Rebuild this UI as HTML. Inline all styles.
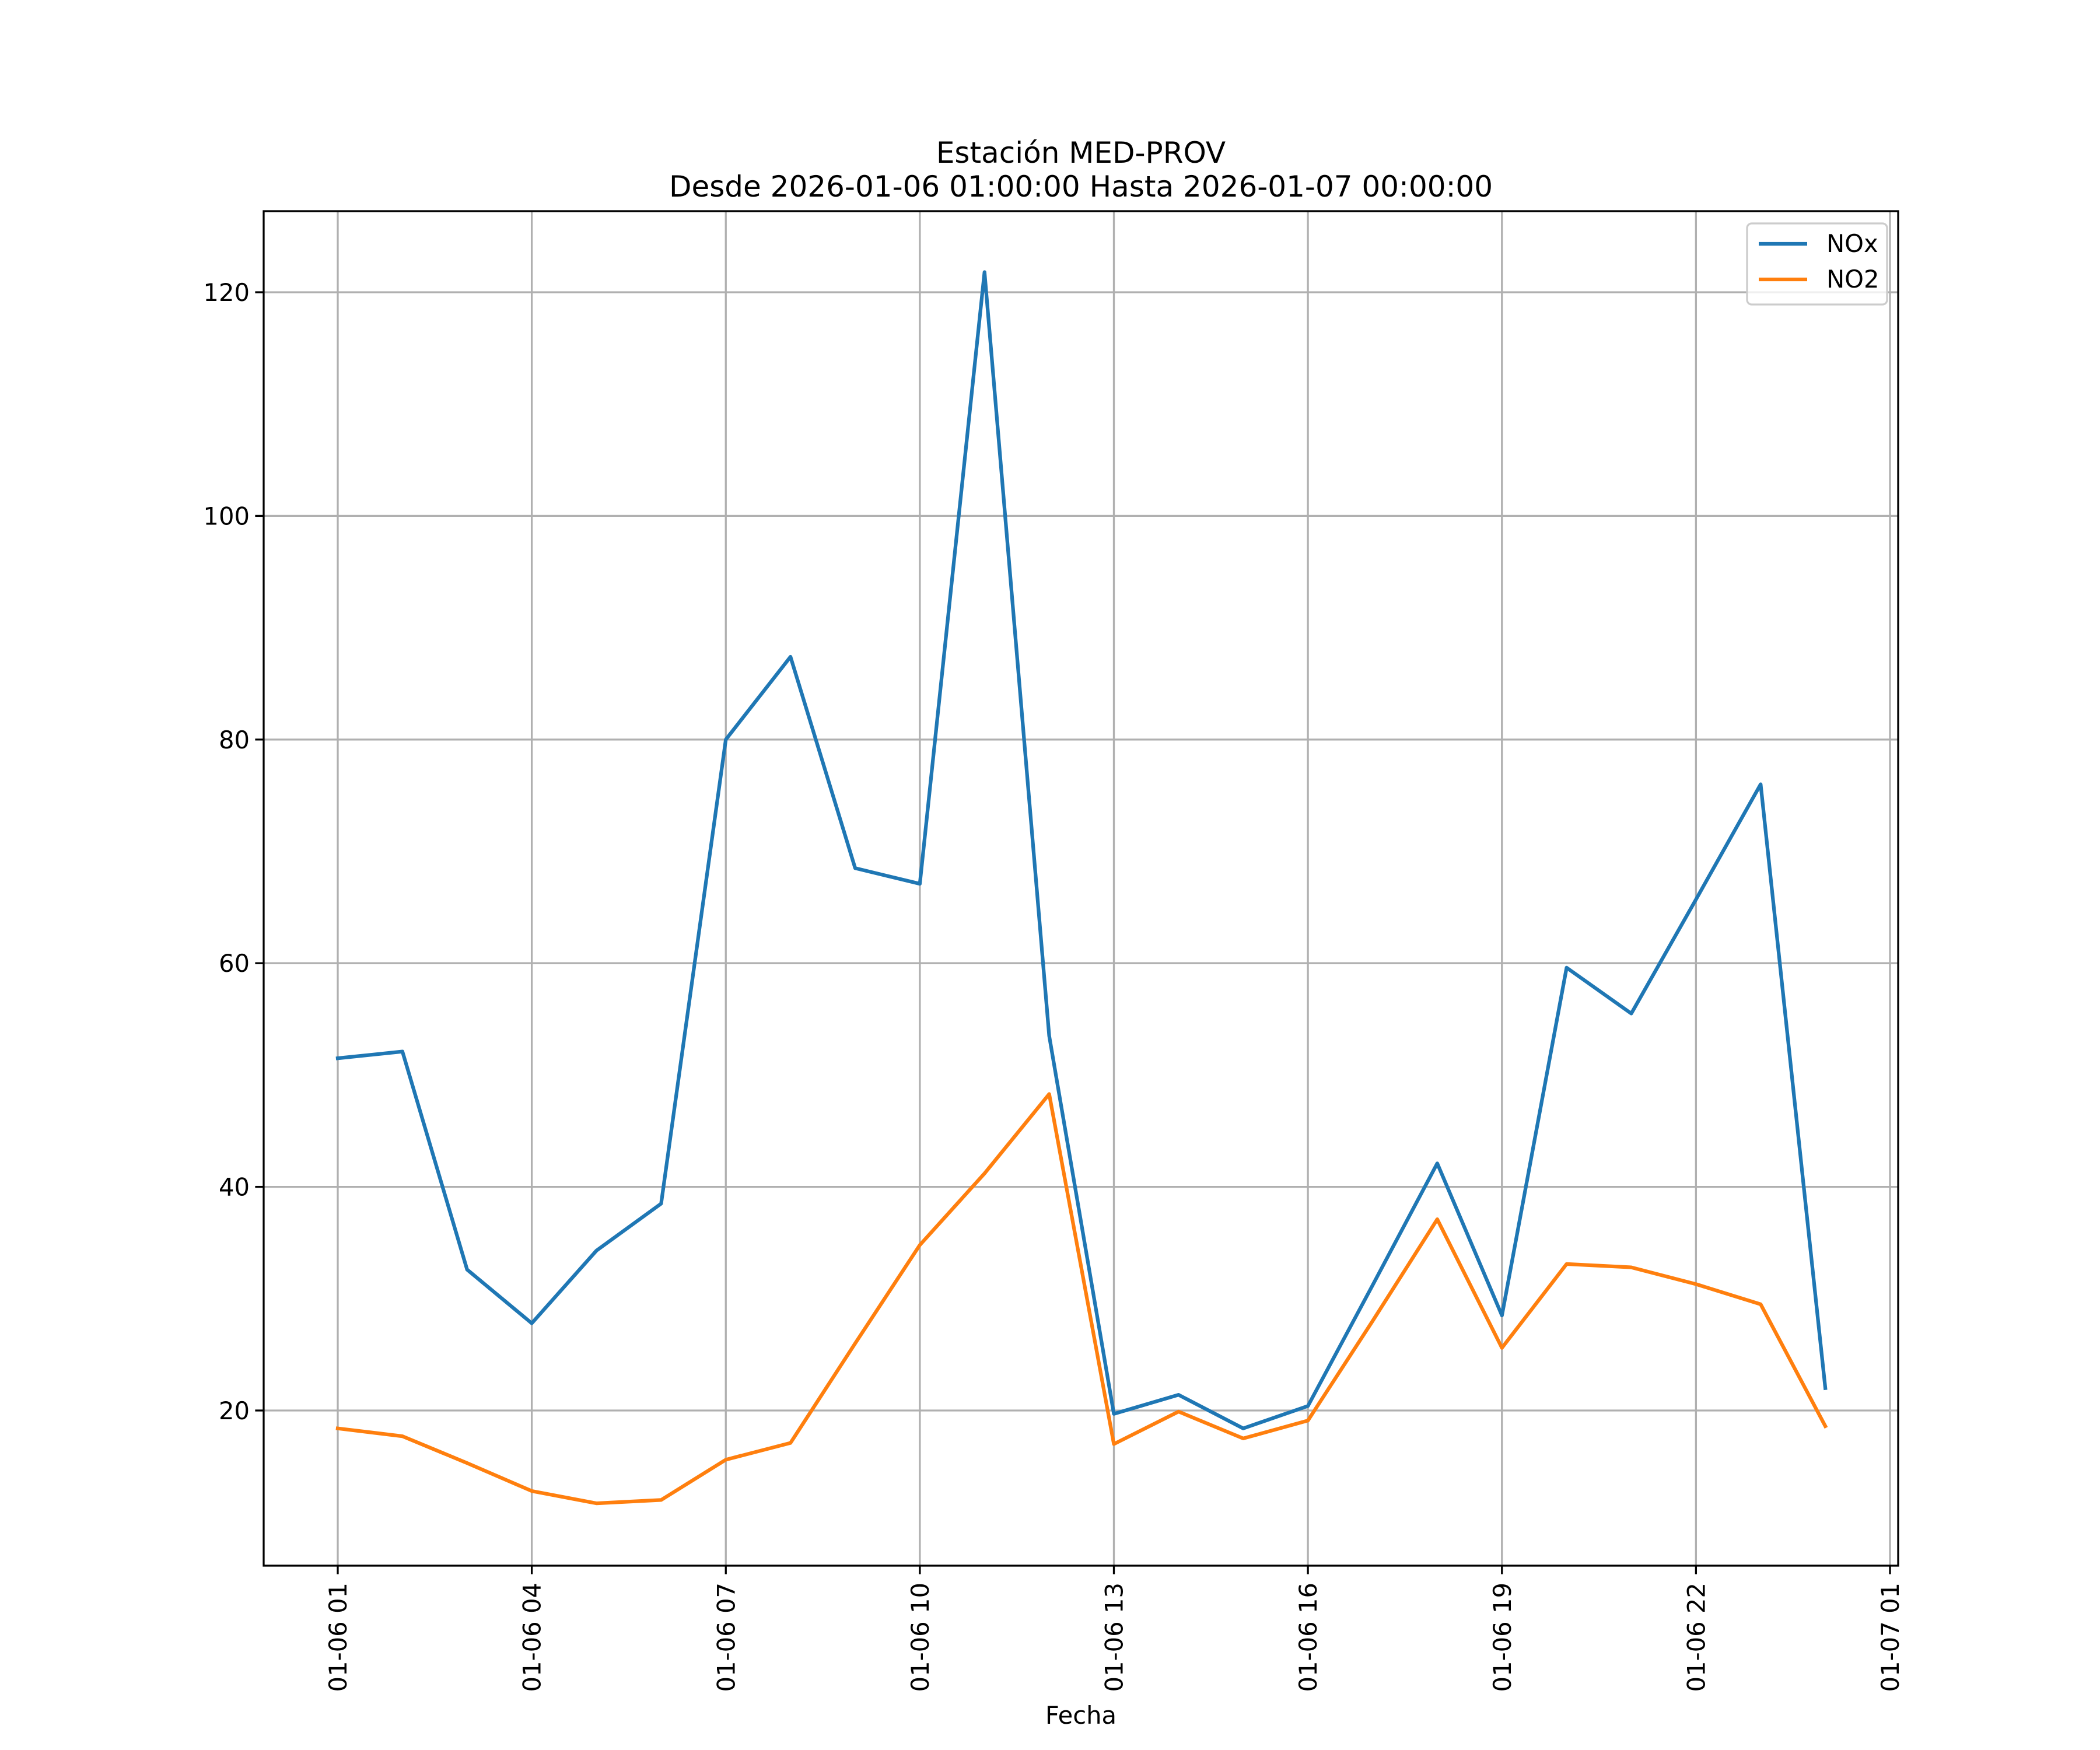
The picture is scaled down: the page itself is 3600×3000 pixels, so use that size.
<!DOCTYPE html>
<html><head><meta charset="utf-8"><style>
html,body{margin:0;padding:0;background:#fff;}
svg{display:block;font-family:"DejaVu Sans","Liberation Sans",sans-serif;}
</style></head><body>
<svg id="chart" width="3600" height="3000" viewBox="0 0 3600 3000" xmlns="http://www.w3.org/2000/svg">
<rect width="3600" height="3000" fill="#fff"/>
<text x="1853" y="279" font-size="50" text-anchor="middle">Estación MED-PROV</text>
<text x="1853" y="337" font-size="50" text-anchor="middle">Desde 2026-01-06 01:00:00 Hasta 2026-01-07 00:00:00</text>
<g id="grid"></g>
<g id="series"></g>
<rect x="452" y="362" width="2802" height="2322" fill="none" stroke="#000" stroke-width="3.3"/>
<g id="ticks"></g>
<text x="1853" y="2955" font-size="41.7" text-anchor="middle">Fecha</text>
<g>
<rect x="2995" y="383" width="240" height="139" rx="8" fill="#fff" fill-opacity="0.8" stroke="#ccc" stroke-width="3.3"/>
<line x1="3015" y1="418" x2="3098" y2="418" stroke="#1f77b4" stroke-width="6.25"/>
<text x="3131" y="432" font-size="41.7">NOx</text>
<line x1="3015" y1="479" x2="3098" y2="479" stroke="#ff7f0e" stroke-width="6.25"/>
<text x="3131" y="493" font-size="41.7">NO2</text>
</g>
</svg>
<script>
const hours = [1,2,3,4,5,6,7,8,9,10,11,12,13,14,15,16,17,18,19,20,21,22,23,24];
const noxValues = [51.5,52.1,32.6,27.8,34.3,38.5,80.0,87.4,68.5,67.1,121.8,53.5,19.7,21.4,18.4,20.4,31.2,42.1,28.5,59.6,55.5,65.7,76.0,22.0];
const no2Values = [18.4,17.7,15.3,12.8,11.7,12.0,15.6,17.1,26.0,34.8,41.2,48.3,17.0,19.9,17.5,19.1,28.0,37.1,25.6,33.1,32.8,31.3,29.5,18.6];
const yTicks = [20,40,60,80,100,120];
const xTicks = [1,4,7,10,13,16,19,22,25];
const xTickLabels = ["01-06 01","01-06 04","01-06 07","01-06 10","01-06 13","01-06 16","01-06 19","01-06 22","01-07 01"];

const NS="http://www.w3.org/2000/svg";
const X0=452,X1=3254,Y0=362,Y1=2684;
function xs(h){return 579+(h-1)*(3240-579)/24;}
function ys(v){return 2418-(v-20)*(2418-501)/100;}
function mk(tag,attrs,parent){const e=document.createElementNS(NS,tag);for(const k in attrs)e.setAttribute(k,attrs[k]);parent.appendChild(e);return e;}
const grid=document.getElementById('grid'),ticks=document.getElementById('ticks'),series=document.getElementById('series');
yTicks.forEach(v=>{
  const y=ys(v);
  const g=mk('line',{x1:X0,x2:X1,y1:y,y2:y,stroke:'#b0b0b0','stroke-width':3.3},grid);
  
  
  const t=mk('line',{x1:X0-14.6,x2:X0,y1:y,y2:y,stroke:'#000','stroke-width':3.3},ticks);
  
  
  const l=mk('text',{x:X0-24,y:y+15,'font-size':41.7,'text-anchor':'end'},ticks);
  l.textContent=v;
  
  
});
xTicks.forEach((h,i)=>{
  const x=xs(h);
  const g=mk('line',{x1:x,x2:x,y1:Y0,y2:Y1,stroke:'#b0b0b0','stroke-width':3.3},grid);
  
  
  const t=mk('line',{x1:x,x2:x,y1:Y1,y2:Y1+14.6,stroke:'#000','stroke-width':3.3},ticks);
  
  
  const l=mk('text',{x:0,y:0,'font-size':41.7,'text-anchor':'end',transform:`translate(${x+15},${Y1+29}) rotate(-90)`},ticks);
  l.textContent=xTickLabels[i];
  
  
});
function line(vals,color,name){
  const p=mk('polyline',{points:vals.map((v,i)=>xs(hours[i])+','+ys(v)).join(' '),fill:'none',stroke:color,'stroke-width':6.25,'stroke-linejoin':'round','stroke-linecap':'square'},series);
  
  
}
line(noxValues,'#1f77b4','nox-line');
line(no2Values,'#ff7f0e','no2-line');
</script>
</body></html>
